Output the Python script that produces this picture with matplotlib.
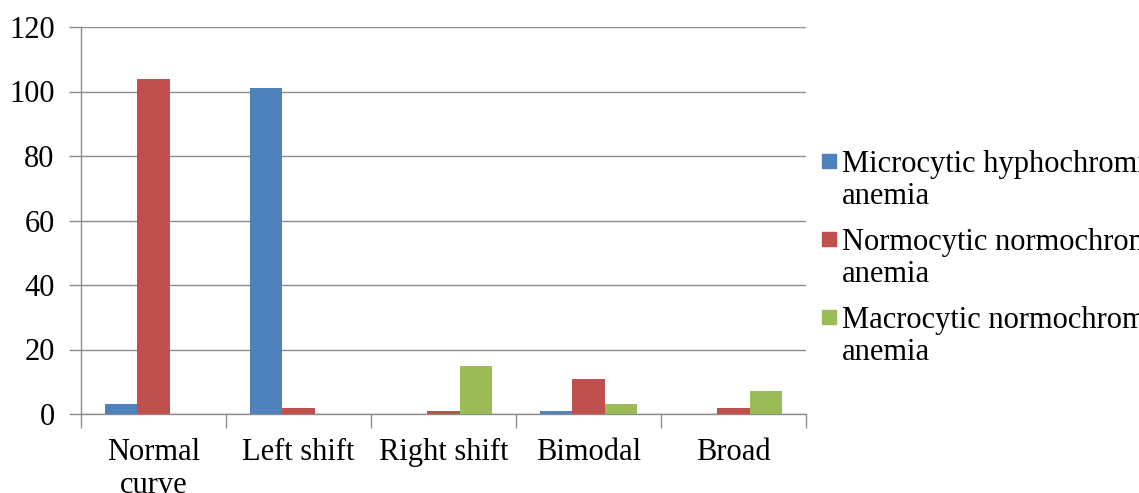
import matplotlib.pyplot as plt
import numpy as np
from matplotlib.patches import Rectangle
from matplotlib.legend_handler import HandlerPatch

categories = ['Normal\ncurve', 'Left shift', 'Right shift', 'Bimodal', 'Broad']
series_names = ['Microcytic hyphochromic\nanemia',
                'Normocytic normochromic\nanemia',
                'Macrocytic normochromic\nanemia']
microcytic = [3, 101, 0, 1, 0]
normocytic = [104, 2, 1, 11, 2]
macrocytic = [0, 0, 15, 3, 7]
colors = ['#4F81BD', '#C0504D', '#9BBB59']

plt.rcParams['font.family'] = ['Liberation Serif', 'DejaVu Serif']
FS = 22

fig = plt.figure(figsize=(11.39, 4.93), dpi=100)
ax = fig.add_axes([81 / 1139, 1 - 414 / 493, (806 - 81) / 1139, (414 - 27) / 493])

x = np.arange(len(categories))
w = 1 / 4.5
for i, (vals, c) in enumerate(zip([microcytic, normocytic, macrocytic], colors)):
    ax.bar(x + (i - 1) * w, vals, w, color=c, zorder=3)

ax.set_xlim(-0.5, len(categories) - 0.5)
ax.set_ylim(0, 120)
ax.set_yticks(range(0, 121, 20))
ax.yaxis.grid(True, color='#8c8c8c', linewidth=1, zorder=0)
ax.set_xticks(x)
ax.set_xticklabels(categories, fontsize=FS, linespacing=1.18)
ax.tick_params(axis='x', length=0, pad=17)
ax.set_xticks(np.arange(-0.5, len(categories)), minor=True)
ax.tick_params(axis='x', which='minor', length=10, color='#8c8c8c', width=1)
ax.tick_params(axis='y', labelsize=FS, length=9, color='#8c8c8c', width=1, pad=10)
for s in ['top', 'right']:
    ax.spines[s].set_visible(False)
for s in ['left', 'bottom']:
    ax.spines[s].set_color('#8c8c8c')
    ax.spines[s].set_linewidth(1)


# square marker aligned with first line of a two-line label
def top_square(legend, orig_handle, xdescent, ydescent, width, height, fontsize):
    s = 0.47 * fontsize
    return Rectangle((-xdescent + 0.12 * fontsize, -ydescent + height - s + 0.1 * fontsize), s, s)


handles = [Rectangle((0, 0), 1, 1, color=c) for c in colors]
leg = ax.legend(handles, series_names, loc='upper left', bbox_to_anchor=(1.0, 0.715),
                frameon=False, fontsize=FS, handlelength=0.47, handleheight=2.1,
                handletextpad=0.3, labelspacing=0.55, borderaxespad=0,
                handler_map={Rectangle: HandlerPatch(patch_func=top_square)})
for t in leg.get_texts():
    t.set_linespacing(1.15)

fig.savefig('out.png', dpi=100)
